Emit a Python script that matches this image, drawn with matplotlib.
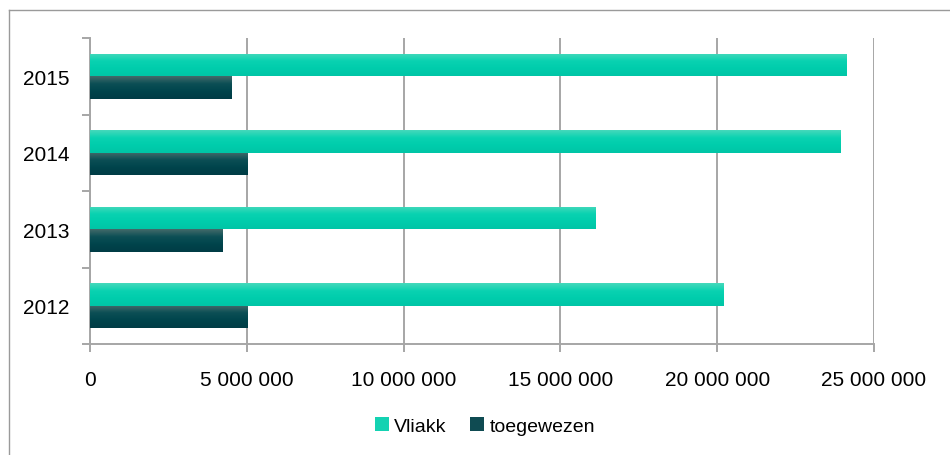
import numpy as np
import matplotlib
matplotlib.use("Agg")
import matplotlib.pyplot as plt
from matplotlib.lines import Line2D
from matplotlib.patches import Patch
from matplotlib.colors import LinearSegmentedColormap

plt.rcParams['font.family'] = ['Liberation Sans Narrow', 'Liberation Sans', 'DejaVu Sans']

years = ["2012", "2013", "2014", "2015"]
vliakk = [20200000, 16120000, 23930000, 24120000]
toegewezen = [5020000, 4220000, 5020000, 4510000]
series_names = ["Vliakk", "toegewezen"]
xticks = [0, 5000000, 10000000, 15000000, 20000000, 25000000]
xtick_labels = ["0", "5 000 000", "10 000 000", "15 000 000", "20 000 000", "25 000 000"]

W, H = 950, 456
fig = plt.figure(figsize=(W / 100, H / 100), dpi=100)
ax = fig.add_axes([90 / W, 1 - 345 / H, (874 - 90) / W, (345 - 39) / H])

y = np.arange(len(years))
bh = 0.294
bars_v = ax.barh(y + bh / 2, vliakk, height=bh, color="#00ccab", zorder=3, linewidth=0)
bars_t = ax.barh(y - bh / 2, toegewezen, height=bh, color="#00444c", zorder=3, linewidth=0)

cm_v = LinearSegmentedColormap.from_list("v", ["#45d9bb", "#0ad2b1", "#00cdac", "#00c5a6"])
cm_t = LinearSegmentedColormap.from_list("t", ["#436a6a", "#0c4f55", "#00444c", "#003c45"])
grad = np.linspace(0, 1, 64).reshape(-1, 1)
for bars, cm in ((bars_v, cm_v), (bars_t, cm_t)):
    for b in bars:
        x0, y0, w, h = b.get_x(), b.get_y(), b.get_width(), b.get_height()
        im = ax.imshow(grad, cmap=cm, aspect="auto", extent=(x0, x0 + w, y0, y0 + h),
                       origin="upper", zorder=4, interpolation="bilinear")
        im.set_clip_path(b)

ax.set_xlim(0, 25000000)
ax.set_ylim(-0.5, len(years) - 0.5)
ax.set_xticks(xticks)
ax.set_xticklabels(xtick_labels, fontsize=15)
ax.set_yticks(y)
ax.set_yticklabels(years, fontsize=15)
ax.set_yticks(np.arange(-0.5, len(years), 1.0), minor=True)

grid_c = "#a6a6a6"
ax.xaxis.grid(True, color=grid_c, linewidth=1.4, zorder=0)
ax.set_axisbelow(True)
for s in ("top", "right"):
    ax.spines[s].set_visible(False)
for s in ("left", "bottom"):
    ax.spines[s].set_color(grid_c)
    ax.spines[s].set_linewidth(1.4)

ax.tick_params(axis="y", which="major", length=0, pad=15, colors="black")
ax.tick_params(axis="y", which="minor", length=6, width=1.4, color=grid_c, direction="out")
ax.tick_params(axis="x", length=6, width=1.4, color=grid_c, direction="out", pad=13)
ax.set_xlim(0, 25000000)
ax.set_ylim(-0.5, len(years) - 0.5)

handles = [Patch(facecolor="#14d2b2", edgecolor="none"), Patch(facecolor="#0f4b52", edgecolor="none")]
fig.legend(handles, series_names, loc="center", bbox_to_anchor=(485 / W, 1 - 427 / H), ncol=2,
           frameon=False, fontsize=14, handlelength=0.7, handleheight=0.7,
           handletextpad=0.3, columnspacing=1.2)

# outer chart border (left and top visible)
fig.add_artist(Line2D([8.5 / W, 8.5 / W], [0, 1 - 10.5 / H], transform=fig.transFigure,
                      color="#9a9a9a", linewidth=1.0))
fig.add_artist(Line2D([8.5 / W, 1], [1 - 10.5 / H, 1 - 10.5 / H], transform=fig.transFigure,
                      color="#9a9a9a", linewidth=1.0))

fig.savefig("out.png", dpi=100)
